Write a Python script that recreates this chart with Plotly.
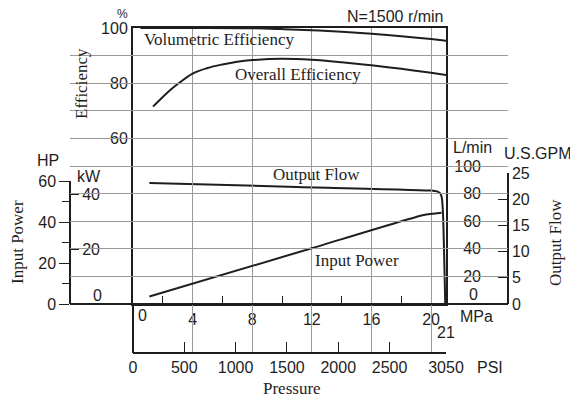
import plotly.graph_objects as go

# ---------------- data ----------------
pressure_vol = [0.5, 4, 8, 10, 12, 14, 16, 18, 20, 21]
vol_eff = [100, 100, 99.9, 99.6, 99.2, 98.6, 97.9, 97.0, 96.0, 95.4]

pressure_ov = [1.34, 2, 2.5, 3, 4, 5, 6, 7, 8, 10, 12, 14, 16, 18, 20, 21]
ov_eff = [71.5, 75.0, 77.5, 79.7, 83.5, 85.5, 86.8, 87.8, 88.4, 88.9, 88.5, 87.6, 86.5, 85.2, 83.8, 83.0]

pressure_flow = [1.1, 11, 20, 20.4, 20.6, 20.72, 20.8, 20.95]
flow_lpm = [87.7, 84.8, 82.2, 81.6, 80.3, 77.0, 65.0, 0.0]

pressure_pow = [1.1, 12, 19.5, 20.7]
power_kw = [2.7, 20.3, 32.4, 33.2]

mpa_ticks = [0, 4, 8, 12, 16, 20]
mpa_minor = [2, 6, 10, 14, 18]
psi_ticks = [0, 500, 1000, 1500, 2000, 2500, 3050]
eff_ticks = [60, 80, 100]
eff_grid = list(range(0, 101, 10))
lpm_ticks = [20, 40, 60, 80, 100]
gpm_ticks = [0, 5, 10, 15, 20, 25]
hp_ticks = [0, 20, 40, 60]
hp_minor = [10, 30, 50]
kw_ticks = [20, 40]
kw_minor = [10, 30]

LPM_PER_GPM = 3.78541
KW_PER_HP = 0.7457

# ---------------- layout geometry (page pixels) ----------------
PAGE_W, PAGE_H = 578, 399
OFF = 8                       # default body margin of the html page
W, H = PAGE_W - OFF, PAGE_H - OFF
def px(x):
    return (x - OFF) / W
def py(y):
    return 1 - (y - OFF) / H

X0, X1 = 133, 446
Y_TOP, Y_BASE = 28, 304
Y_PSI = 353
X_HP = 70
X_GPM = 508
HP_TOP = 181

SANS = "Liberation Sans, Arial, sans-serif"
SERIF = "Liberation Serif, Times New Roman, serif"
INK = "#1e1e1e"
GRID = "#9a9a9a"
tf = dict(family=SANS, size=16, color=INK)

eff_dom = [py(Y_BASE), py(Y_TOP)]
gpm_top = eff_dom[0] + (25 * LPM_PER_GPM / 200.0) * (eff_dom[1] - eff_dom[0])
hp_dom = [py(Y_BASE), py(HP_TOP)]

fig = go.Figure()
fig.add_trace(go.Scatter(x=pressure_vol, y=vol_eff, mode="lines", line=dict(color=INK, width=2, shape="spline"),
                         xaxis="x", yaxis="y", hoverinfo="skip"))
fig.add_trace(go.Scatter(x=pressure_ov, y=ov_eff, mode="lines", line=dict(color=INK, width=2, shape="spline"),
                         xaxis="x", yaxis="y", hoverinfo="skip"))
fig.add_trace(go.Scatter(x=pressure_flow, y=flow_lpm, mode="lines", line=dict(color=INK, width=2, shape="spline", smoothing=0.6),
                         xaxis="x", yaxis="y2", hoverinfo="skip"))
fig.add_trace(go.Scatter(x=pressure_pow, y=power_kw, mode="lines", line=dict(color=INK, width=2, shape="spline", smoothing=0.5),
                         xaxis="x", yaxis="y6", hoverinfo="skip"))
# empty traces so that the decorative free axes are registered and drawn
for xa, ya in [("x2", "y"), ("x3", "y"), ("x", "y3"), ("x", "y4"), ("x", "y5")]:
    fig.add_trace(go.Scatter(x=[], y=[], xaxis=xa, yaxis=ya, mode="lines", hoverinfo="skip", showlegend=False))

common = dict(automargin=False, fixedrange=True, zeroline=False)

fig.update_layout(
    width=W, height=H,
    margin=dict(l=0, r=0, t=0, b=0, pad=0, autoexpand=False),
    paper_bgcolor="white", plot_bgcolor="rgba(0,0,0,0)",
    showlegend=False,
    font=dict(family=SANS, size=16, color=INK),
    xaxis=dict(
        domain=[px(X0), px(X1)], range=[0, 21], anchor="y",
        tickmode="array", tickvals=mpa_ticks, ticktext=[""] + [str(v) for v in mpa_ticks[1:]],
        ticks="inside", ticklen=8, tickcolor=INK, tickwidth=1,
        minor=dict(tickvals=mpa_minor, ticks="inside", ticklen=8, tickcolor=INK, showgrid=False),
        showgrid=True, gridcolor=GRID, gridwidth=1,
        showline=True, mirror=True, linecolor=INK, linewidth=2,
        tickfont=tf, **common,
    ),
    yaxis=dict(
        domain=eff_dom, range=[0, 100], anchor="x",
        tickmode="array", tickvals=eff_ticks, ticks="",
        showgrid=True, gridcolor=GRID, gridwidth=1,
        minor=dict(tickvals=eff_grid, showgrid=True, gridcolor=GRID, gridwidth=1, ticks=""),
        showline=True, mirror=True, linecolor=INK, linewidth=2,
        tickfont=tf, **common,
    ),
    xaxis2=dict(
        domain=[px(X0), px(X1)], range=[0, 3050], anchor="free", position=py(Y_PSI),
        tickmode="array", tickvals=psi_ticks, ticks="inside", ticklen=10, tickcolor=INK,
        showline=True, linecolor=INK, linewidth=1.5, showgrid=False,
        tickfont=tf, **common,
    ),
    xaxis3=dict(
        domain=[px(X_HP), px(X_GPM)], range=[0, 1], anchor="free", position=py(Y_BASE),
        showline=True, linecolor=INK, linewidth=1.5, showgrid=False,
        showticklabels=False, ticks="", **common,
    ),
    yaxis2=dict(
        overlaying="y", anchor="free", position=px(481), side="left",
        range=[0, 200], tickmode="array", tickvals=lpm_ticks, ticks="",
        showline=False, showgrid=False, tickfont=tf, **common,
    ),
    yaxis3=dict(
        domain=[eff_dom[0], gpm_top], anchor="free", position=px(X_GPM), side="right",
        range=[0, 25], tickmode="array", tickvals=gpm_ticks, ticks="inside", ticklen=9, tickcolor=INK,
        showline=True, linecolor=INK, linewidth=1.5, showgrid=False,
        tickfont=tf, **common,
    ),
    yaxis4=dict(
        domain=[py(Y_PSI), py(Y_BASE)], anchor="free", position=px(X0), side="left",
        range=[0, 1], showline=True, linecolor=INK, linewidth=2, showgrid=False,
        showticklabels=False, ticks="", **common,
    ),
    yaxis5=dict(
        domain=hp_dom, anchor="free", position=px(X_HP), side="left",
        range=[0, 60], tickmode="array", tickvals=hp_ticks, ticks="outside", ticklen=10, tickcolor=INK,
        minor=dict(tickvals=hp_minor, ticks="outside", ticklen=7, tickcolor=INK),
        showline=True, linecolor=INK, linewidth=1.5, showgrid=False,
        tickfont=tf, **common,
    ),
    yaxis6=dict(
        overlaying="y5", anchor="free", position=px(X_HP), side="right",
        range=[0, 60 * KW_PER_HP], tickmode="array", tickvals=kw_ticks, ticks="outside", ticklen=8, tickcolor=INK,
        minor=dict(tickvals=kw_minor, ticks="outside", ticklen=6, tickcolor=INK),
        showline=False, showgrid=False, tickfont=tf, **common,
    ),
)

ann = []
def ptext(text, x, y, size=16, family=SANS, angle=0, xanchor="center"):
    ann.append(dict(text=text, x=px(x), y=py(y), xref="paper", yref="paper", showarrow=False,
                    xanchor=xanchor, yanchor="middle", textangle=angle,
                    font=dict(family=family, size=size, color=INK)))

ptext("%", 122, 14, size=12)
ptext("Efficiency", 82, 83, size=17, family=SERIF, angle=-90)
ptext("N=1500 r/min", 446, 17, xanchor="right")
ptext("HP", 48, 160)
ptext("kW", 89, 176)
ptext("Input Power", 17, 242, size=17, family=SERIF, angle=-90)
ptext("0", 97, 295)
ptext("0", 142, 315)
ptext("MPa", 476, 316)
ptext("PSI", 490, 367)
ptext("Pressure", 292, 388, size=17, family=SERIF)
ptext("L/min", 472, 148)
ptext("U.S.GPM", 538, 153)
ptext("0", 473, 294)
ptext("Output Flow", 555, 243, size=17, family=SERIF, angle=-90)

ann.append(dict(text="21", x=21, xref="x", y=py(332), yref="paper", showarrow=False,
                xanchor="center", yanchor="middle", font=dict(family=SANS, size=16, color=INK)))

def dtext(text, x, y, yref, xanchor="center"):
    ann.append(dict(text=text, x=x, y=y, xref="x", yref=yref, showarrow=False,
                    xanchor=xanchor, yanchor="middle", font=dict(family=SERIF, size=17, color=INK)))

dtext("Volumetric Efficiency", 0.6, 95.7, "y", xanchor="left")
dtext("Overall Efficiency", 11.1, 83.0, "y")
dtext("Output Flow", 12.3, 94.2, "y2")
dtext("Input Power", 15.0, 16.0, "y6")

fig.update_layout(annotations=ann)
fig.write_html("out.html")
